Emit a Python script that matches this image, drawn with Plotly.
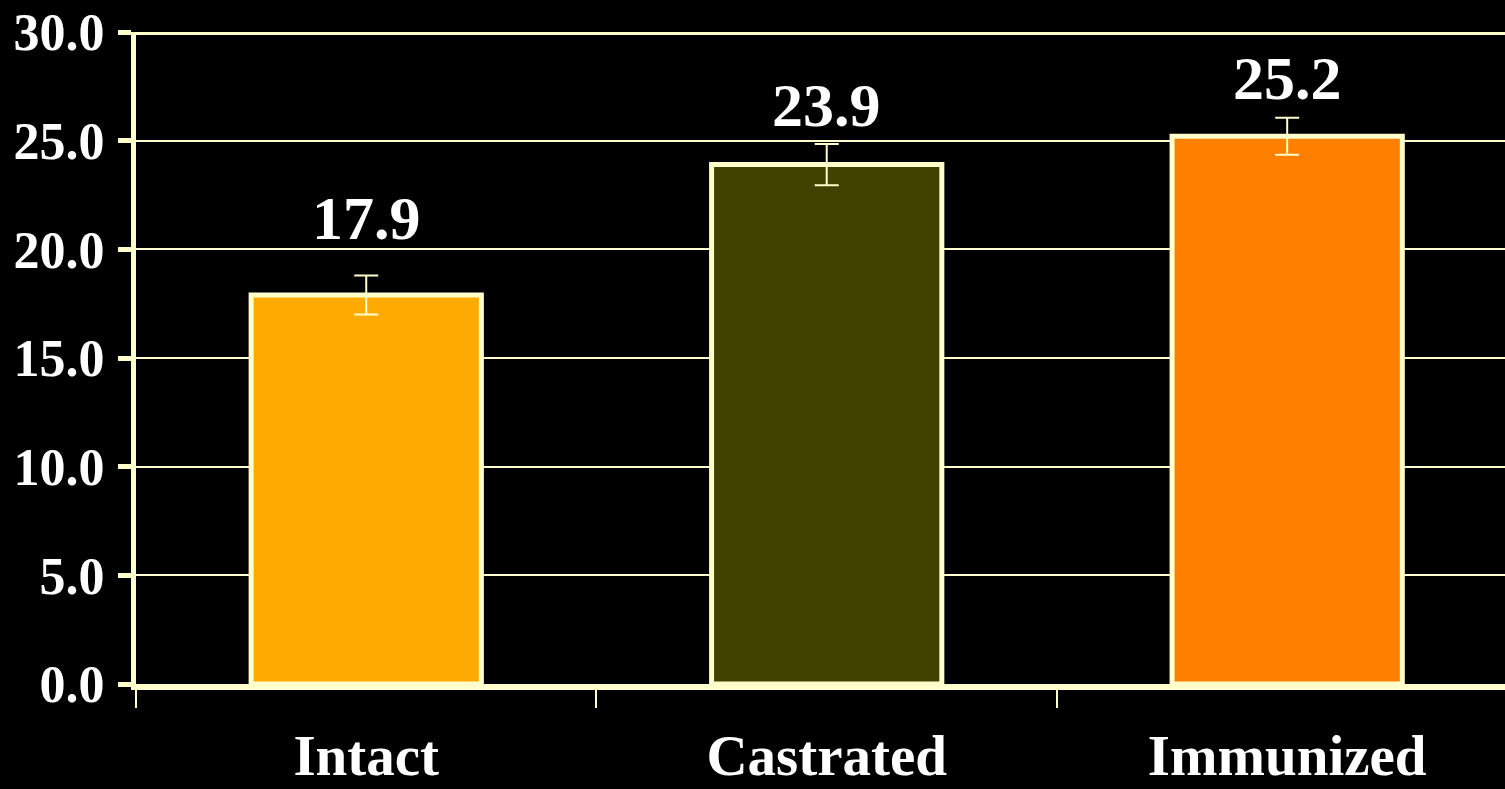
import plotly.graph_objects as go

categories = ["Intact", "Castrated", "Immunized"]
values = [17.9, 23.9, 25.2]
errors = [0.9, 0.95, 0.85]
bar_colors = ["#FFAA00", "#424200", "#FF7F00"]
y_tickvals = [0, 5, 10, 15, 20, 25, 30]
y_ticktext = ["0.0", "5.0", "10.0", "15.0", "20.0", "25.0", "30.0"]

CREAM = "#FFFFCC"
FONT = "Liberation Serif"

fig = go.Figure()
fig.add_trace(go.Bar(
    x=categories, y=values, width=0.5,
    marker=dict(color=bar_colors, line=dict(color=CREAM, width=5)),
    error_y=dict(type="data", array=errors, visible=True, color=CREAM, thickness=2, width=12),
    showlegend=False, hoverinfo="skip",
))

extra_lift = [19, 2, 0]
for i, (c, v) in enumerate(zip(categories, values)):
    fig.add_annotation(
        x=c, y=v, xref="x", yref="y", text=f"<b>{v:.1f}</b>", showarrow=False,
        yanchor="bottom", yshift=22 + extra_lift[i],
        font=dict(family=FONT, size=62, color="white"),
    )

fig.add_shape(type="line", xref="paper", yref="y", x0=0, x1=1, y0=30, y1=30,
              line=dict(color=CREAM, width=6), layer="above")

fig.update_layout(
    width=1505, height=789, autosize=False,
    margin=dict(l=136, r=0, t=32, b=105, pad=0, autoexpand=False),
    paper_bgcolor="black", plot_bgcolor="black",
    bargap=0.5,
)
fig.update_xaxes(
    type="category", range=[-0.5, 2.473], automargin=False,
    showline=True, linecolor=CREAM, linewidth=6,
    ticks="outside", tickson="boundaries", ticklen=18, tickwidth=2, tickcolor=CREAM,
    tickfont=dict(family=FONT, size=57, color="white", weight="bold"),
    ticklabelstandoff=17,
    showgrid=False, zeroline=False,
)
fig.update_yaxes(
    range=[0, 30], tickmode="array", tickvals=y_tickvals, ticktext=y_ticktext,
    automargin=False,
    showline=True, linecolor=CREAM, linewidth=5,
    ticks="outside", ticklen=13, tickwidth=5, tickcolor=CREAM,
    tickfont=dict(family=FONT, size=52, color="white", weight="bold"),
    ticklabelstandoff=3,
    showgrid=True, gridcolor=CREAM, gridwidth=2, zeroline=False,
)

fig.write_html(
    "out.html",
    config={"displayModeBar": False},
    post_script="document.documentElement.style.margin='0';document.body.style.margin='0';"
                "document.body.style.padding='0';document.body.style.background='black';"
                "document.body.style.overflow='hidden';",
)
